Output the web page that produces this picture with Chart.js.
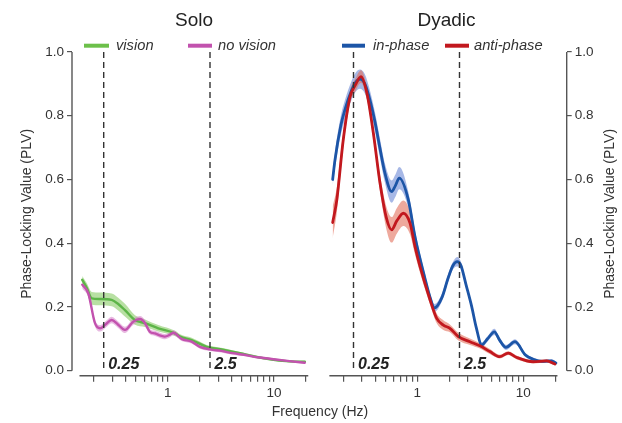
<!DOCTYPE html>
<html>
<head>
<meta charset="utf-8">
<script src="https://cdn.jsdelivr.net/npm/chart.js@4.4.1/dist/chart.umd.min.js"></script>
<style>
  html, body { margin: 0; padding: 0; background: #ffffff; }
  #wrap { position: relative; width: 622px; height: 423px; overflow: hidden; }
  #wrap canvas { position: absolute; left: 0; top: 0; }
</style>
</head>
<body>
<div id="wrap">
  <canvas id="solo" width="622" height="423"></canvas>
  <canvas id="dyadic" width="622" height="423"></canvas>
</div>
<script>
// ---------------- DATA ----------------
// Solo – vision (green)
const soloVisionFreq = [0.157,0.173,0.193,0.23,0.297,0.34,0.396,0.492,0.612,0.816,1.17,1.31,1.68,2.33,3.3,4.79,6.5,9.17,13,19.5];
const soloVisionPLV  = [0.285,0.26,0.227,0.225,0.222,0.21,0.19,0.159,0.149,0.133,0.117,0.107,0.096,0.075,0.066,0.055,0.045,0.036,0.030,0.028];
const soloVisionErr  = [0.012,0.015,0.02,0.02,0.02,0.02,0.02,0.015,0.012,0.01,0.008,0.007,0.007,0.006,0.005,0.004,0.004,0.003,0.003,0.003];

// Solo – no vision (magenta)
const soloNoVisionFreq = [0.157,0.179,0.207,0.231,0.26,0.297,0.34,0.396,0.475,0.549,0.612,0.68,0.76,0.86,0.94,1.05,1.13,1.35,1.68,2.01,2.5,3.2,4.1,5.2,6.4,8,9.9,14,19.5];
const soloNoVisionPLV  = [0.27,0.243,0.149,0.133,0.145,0.159,0.145,0.128,0.154,0.162,0.149,0.122,0.117,0.11,0.107,0.113,0.119,0.1,0.091,0.075,0.067,0.062,0.055,0.05,0.044,0.04,0.036,0.03,0.025];
const soloNoVisionErr  = [0.012,0.012,0.01,0.01,0.01,0.01,0.01,0.01,0.01,0.01,0.01,0.008,0.008,0.008,0.008,0.008,0.008,0.007,0.006,0.006,0.005,0.005,0.005,0.004,0.004,0.004,0.003,0.003,0.003];

// Dyadic – in-phase (blue)
const inPhaseFreq = [0.159,0.167,0.19,0.208,0.24,0.262,0.288,0.32,0.357,0.399,0.443,0.495,0.573,0.62,0.676,0.823,0.951,1.18,1.32,1.45,1.71,1.95,2.17,2.38,2.58,2.88,3.26,3.6,4.05,4.6,5.33,6.0,6.86,8.36,10.4,12.4,15,18.5,20.3];
const inPhasePLV  = [0.60,0.66,0.77,0.82,0.88,0.905,0.915,0.90,0.85,0.78,0.70,0.62,0.562,0.58,0.604,0.536,0.42,0.29,0.23,0.197,0.23,0.29,0.33,0.342,0.33,0.27,0.201,0.135,0.081,0.10,0.122,0.095,0.073,0.091,0.05,0.036,0.029,0.031,0.024];
const inPhaseErr  = [0.02,0.025,0.03,0.03,0.03,0.03,0.03,0.03,0.03,0.03,0.03,0.03,0.035,0.035,0.035,0.025,0.02,0.015,0.012,0.012,0.012,0.012,0.012,0.015,0.012,0.01,0.01,0.008,0.008,0.008,0.01,0.008,0.008,0.008,0.006,0.005,0.005,0.005,0.005];

// Dyadic – anti-phase (red)
const antiPhaseFreq = [0.159,0.174,0.20,0.232,0.259,0.294,0.335,0.385,0.445,0.51,0.573,0.64,0.738,0.853,0.95,1.06,1.32,1.52,1.76,2.03,2.44,3.14,3.9,4.84,6.0,7.2,8.6,12.4,16.6,19.9];
const antiPhasePLV  = [0.465,0.536,0.724,0.86,0.895,0.923,0.87,0.745,0.588,0.48,0.442,0.47,0.494,0.463,0.39,0.327,0.222,0.165,0.143,0.133,0.107,0.091,0.078,0.06,0.044,0.055,0.042,0.028,0.031,0.021];
const antiPhaseErr  = [0.05,0.04,0.025,0.02,0.02,0.02,0.02,0.02,0.025,0.035,0.04,0.04,0.04,0.035,0.025,0.02,0.015,0.015,0.015,0.012,0.012,0.01,0.008,0.008,0.006,0.006,0.006,0.005,0.005,0.005];

// Axes
const yTicks = [0, 0.2, 0.4, 0.6, 0.8, 1.0];
const xTicks = [0.2,0.3,0.4,0.5,0.6,0.7,0.8,0.9,1,2,3,4,5,6,7,8,9,10,20];
const xTickLabels = ['','','','','','','','','1','','','','','','','','','10',''];
const xAxisExtent = [0.148, 21];
const markerFreqs = [0.25, 2.5];
const markerLabels = ['0.25', '2.5'];

// ---------------- STYLE ----------------
const FONT = '"Liberation Sans", Arial, Helvetica, sans-serif';
Chart.defaults.font.family = FONT;
const TXT = '#333333';
const AXIS = '#555555';

function series(freq, val, err, line, band, lw, lineOrder, bandOrder) {
  return [
    { data: freq.map((f, i) => ({ x: f, y: val[i] - err[i] })), borderWidth: 0, pointRadius: 0,
      fill: false, cubicInterpolationMode: 'monotone', order: bandOrder, borderColor: 'rgba(0,0,0,0)' },
    { data: freq.map((f, i) => ({ x: f, y: val[i] + err[i] })), borderWidth: 0, pointRadius: 0,
      fill: '-1', backgroundColor: band, cubicInterpolationMode: 'monotone', order: bandOrder, borderColor: 'rgba(0,0,0,0)' },
    { data: freq.map((f, i) => ({ x: f, y: val[i] })), borderColor: line, borderWidth: lw, pointRadius: 0,
      fill: false, cubicInterpolationMode: 'monotone', order: lineOrder, borderCapStyle: 'round', borderJoinStyle: 'round' }
  ];
}

function panelPlugin(cfg) {
  return {
    id: 'panel_' + cfg.name,
    afterDatasetsDraw(chart) {
      const { ctx, scales: { x, y } } = chart;
      ctx.save();
      ctx.strokeStyle = '#333';
      ctx.lineWidth = 1.4;
      ctx.setLineDash([6, 4]);
      markerFreqs.forEach((f) => {
        const px = x.getPixelForValue(f);
        ctx.beginPath();
        ctx.moveTo(px, y.getPixelForValue(1));
        ctx.lineTo(px, y.getPixelForValue(0));
        ctx.stroke();
      });
      ctx.setLineDash([]);
      ctx.fillStyle = '#222';
      ctx.font = 'italic bold 16px ' + FONT;
      ctx.textAlign = 'left';
      ctx.textBaseline = 'alphabetic';
      markerLabels.forEach((t, i) => {
        const px = x.getPixelForValue(markerFreqs[i]);
        ctx.fillText(t, px + 4.5, y.getPixelForValue(0) - 1.4);
      });
      ctx.restore();
    },
    afterDraw(chart) {
      const { ctx, chartArea, scales: { x, y } } = chart;
      ctx.save();
      // axis lines
      ctx.strokeStyle = AXIS;
      ctx.lineWidth = 1.4;
      const yx = cfg.yRight ? chartArea.right : chartArea.left;
      ctx.beginPath();
      ctx.moveTo(yx, y.getPixelForValue(1));
      ctx.lineTo(yx, y.getPixelForValue(0));
      ctx.stroke();
      ctx.beginPath();
      ctx.moveTo(x.getPixelForValue(xAxisExtent[0]), chartArea.bottom);
      ctx.lineTo(x.getPixelForValue(xAxisExtent[1]), chartArea.bottom);
      ctx.stroke();
      // title
      ctx.fillStyle = '#222';
      ctx.font = '19px ' + FONT;
      ctx.textAlign = 'center';
      ctx.textBaseline = 'alphabetic';
      ctx.fillText(cfg.title, cfg.titleX, 26);
      // legend
      cfg.legend.forEach((it) => {
        ctx.strokeStyle = it.color;
        ctx.lineWidth = 4;
        ctx.beginPath();
        ctx.moveTo(it.x1, 45.7);
        ctx.lineTo(it.x2, 45.7);
        ctx.stroke();
        ctx.fillStyle = TXT;
        ctx.font = 'italic 14.7px ' + FONT;
        ctx.textAlign = 'left';
        ctx.fillText(it.text, it.tx, 50);
      });
      // right-side y title (reads bottom to top)
      if (cfg.yRight) {
        ctx.save();
        ctx.translate(610, (chartArea.top + chartArea.bottom) / 2);
        ctx.rotate(-Math.PI / 2);
        ctx.fillStyle = TXT;
        ctx.font = '14px ' + FONT;
        ctx.textAlign = 'center';
        ctx.textBaseline = 'middle';
        ctx.fillText('Phase-Locking Value (PLV)', 0, 0);
        ctx.restore();
      }
      if (cfg.xTitle) {
        ctx.fillStyle = TXT;
        ctx.font = '14px ' + FONT;
        ctx.textAlign = 'center';
        ctx.textBaseline = 'alphabetic';
        ctx.fillText('Frequency (Hz)', 320, 415.7);
      }
      ctx.restore();
    }
  };
}

function makeChart(id, datasets, cfg) {
  return new Chart(document.getElementById(id), {
    type: 'line',
    data: { datasets },
    options: {
      responsive: false,
      animation: false,
      events: [],
      layout: { padding: { left: cfg.padLeft, right: cfg.padRight, top: 52, bottom: 0 } },
      plugins: { legend: { display: false }, tooltip: { enabled: false }, title: { display: false } },
      scales: {
        x: {
          type: 'logarithmic',
          min: cfg.xmin, max: cfg.xmax,
          afterBuildTicks: (s) => { s.ticks = xTicks.map((v) => ({ value: v })); },
          afterFit: (s) => { s.height = 47.3; },
          ticks: { autoSkip: false, maxRotation: 0, minRotation: 0, padding: 3, color: TXT,
                   font: { size: 13.5 }, callback: (v, i) => xTickLabels[i] },
          grid: { display: true, drawOnChartArea: false, drawTicks: true, tickLength: 6, color: AXIS, lineWidth: 1.2 },
          border: { display: false }
        },
        y: {
          type: 'linear',
          position: cfg.yRight ? 'right' : 'left',
          min: -0.0157, max: 1.0,
          afterBuildTicks: (s) => { s.ticks = yTicks.map((v) => ({ value: v })); },
          afterFit: (s) => { s.width = cfg.yWidth; },
          ticks: { padding: 3, color: TXT, font: { size: 13.5 }, callback: (v) => Number(v).toFixed(1) },
          grid: { display: true, drawOnChartArea: false, drawTicks: true, tickLength: 5, color: AXIS, lineWidth: 1.2 },
          border: { display: false },
          title: { display: !cfg.yRight, text: 'Phase-Locking Value (PLV)', color: TXT,
                   font: { size: 14 }, padding: { top: 18.7, bottom: 0 } }
        }
      }
    },
    plugins: [panelPlugin(cfg)]
  });
}

// Solo panel
makeChart('solo', [
  ...series(soloVisionFreq, soloVisionPLV, soloVisionErr, '#5db548', 'rgba(125,198,88,0.55)', 2.4, 2, 10),
  ...series(soloNoVisionFreq, soloNoVisionPLV, soloNoVisionErr, '#c252ae', 'rgba(214,128,200,0.55)', 2.4, 1, 9)
], {
  name: 'solo', title: 'Solo', titleX: 194, xTitle: true, yRight: false,
  padLeft: 0, padRight: 312, yWidth: 72, xmin: 0.1258, xmax: 21.81,
  legend: [
    { color: '#6cc04a', x1: 84, x2: 109, tx: 116, text: 'vision' },
    { color: '#c252ae', x1: 188, x2: 212, tx: 218, text: 'no vision' }
  ]
});

// Dyadic panel
makeChart('dyadic', [
  ...series(inPhaseFreq, inPhasePLV, inPhaseErr, '#1c55a7', 'rgba(95,125,210,0.55)', 2.8, 2, 10),
  ...series(antiPhaseFreq, antiPhasePLV, antiPhaseErr, '#c2181e', 'rgba(226,112,92,0.6)', 2.8, 1, 9)
], {
  name: 'dyadic', title: 'Dyadic', titleX: 446.5, xTitle: false, yRight: true,
  padLeft: 325, padRight: 0, yWidth: 55.3, xmin: 0.1346, xmax: 25.67,
  legend: [
    { color: '#1c55a7', x1: 342, x2: 365, tx: 373, text: 'in-phase' },
    { color: '#c2181e', x1: 445, x2: 469, tx: 474, text: 'anti-phase' }
  ]
});
</script>
</body>
</html>
